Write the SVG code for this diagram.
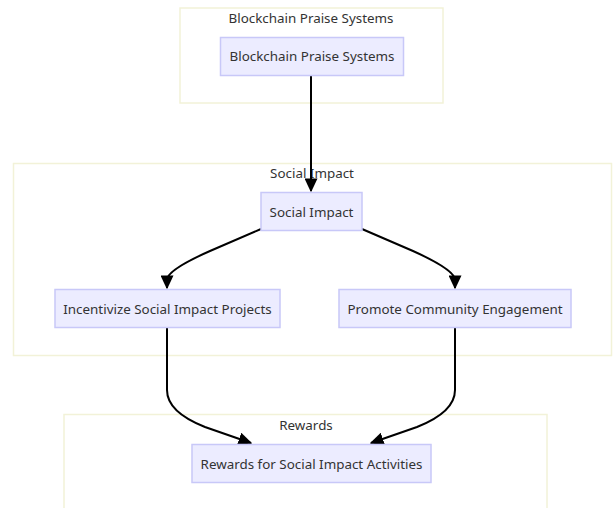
<svg xmlns="http://www.w3.org/2000/svg" width="613" height="508" viewBox="0 0 613 508">
<style>
.cluster{fill:#ffffff;stroke:#f2f2d8;stroke-width:1.5}
.node rect{fill:#ececff;stroke:#c8c8f8;stroke-width:1.5}
text{font-family:"Noto Sans","Open Sans",sans-serif;font-size:13.4px;fill:#333;text-anchor:middle;dominant-baseline:central}
.edge{fill:none;stroke:#000;stroke-width:2}
</style>
<defs>
<marker id="arr" viewBox="0 0 10 10" refX="9" refY="5" markerWidth="14" markerHeight="13" markerUnits="userSpaceOnUse" orient="auto" preserveAspectRatio="none">
<path d="M0,0 L10,5 L0,10 z" fill="#000"/>
</marker>
</defs>
<rect width="613" height="508" fill="#fff"/>
<g id="cluster-blockchain">
<rect class="cluster" x="180" y="8" width="263" height="95"/>
<text x="311" y="18">Blockchain Praise Systems</text>
</g>
<g id="cluster-social">
<rect class="cluster" x="13.5" y="163.5" width="598" height="192"/>
<text x="312" y="173">Social Impact</text>
</g>
<g id="cluster-rewards">
<rect class="cluster" x="64" y="414.5" width="483" height="100"/>
<text x="306" y="425">Rewards</text>
</g>
<g id="connectors">
<path class="edge" d="M311,75 L311,191" marker-end="url(#arr)"/>
<path class="edge" d="M261,229 L210,251 Q167,270 167,280 L167,288" marker-end="url(#arr)"/>
<path class="edge" d="M362,229 L413,251 Q455,270 455,280 L455,288" marker-end="url(#arr)"/>
<path class="edge" d="M167,327 L167,390 Q167,412 205,427 L251,443" marker-end="url(#arr)"/>
<path class="edge" d="M455,327 L455,390 Q455,412 417,427 L371,443" marker-end="url(#arr)"/>
</g>
<g id="node-blockchain" class="node">
<rect x="220.5" y="37.5" width="183" height="38"/>
<text x="312" y="56">Blockchain Praise Systems</text>
</g>
<g id="node-social" class="node">
<rect x="261" y="192.5" width="101" height="38"/>
<text x="311.5" y="211.5">Social Impact</text>
</g>
<g id="node-incentivize" class="node">
<rect x="55" y="289.5" width="225" height="38"/>
<text x="167.5" y="308.5">Incentivize Social Impact Projects</text>
</g>
<g id="node-promote" class="node">
<rect x="339" y="289.5" width="232" height="38"/>
<text x="455" y="308.5">Promote Community Engagement</text>
</g>
<g id="node-rewards" class="node">
<rect x="192" y="444.5" width="239" height="38"/>
<text x="311.5" y="463.5">Rewards for Social Impact Activities</text>
</g>
</svg>
